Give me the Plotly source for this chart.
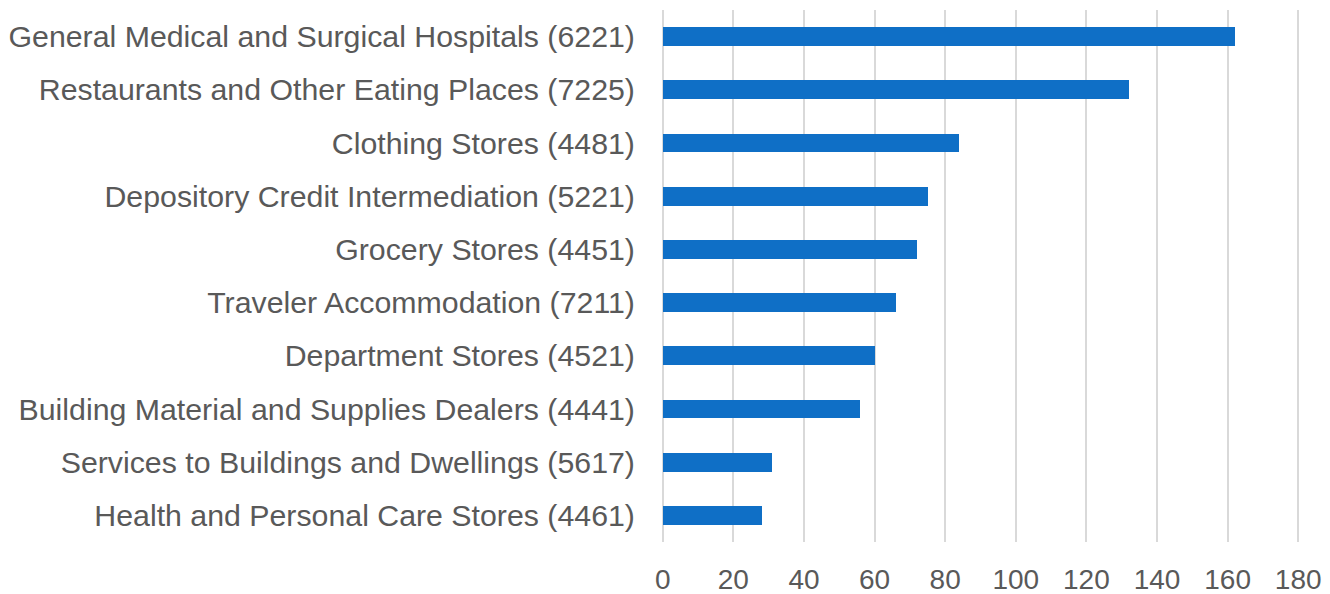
import plotly.graph_objects as go

categories = [
    "General Medical and Surgical Hospitals (6221)",
    "Restaurants and Other Eating Places (7225)",
    "Clothing Stores (4481)",
    "Depository Credit Intermediation (5221)",
    "Grocery Stores (4451)",
    "Traveler Accommodation (7211)",
    "Department Stores (4521)",
    "Building Material and Supplies Dealers (4441)",
    "Services to Buildings and Dwellings (5617)",
    "Health and Personal Care Stores (4461)",
]
values = [162, 132, 84, 75, 72, 66, 60, 56, 31, 28]
tick_vals = [0, 20, 40, 60, 80, 100, 120, 140, 160, 180]

fig = go.Figure(go.Bar(
    x=values, y=categories, orientation="h",
    marker=dict(color="#0F6FC6", line=dict(width=0)),
    width=0.35,
))

fig.update_layout(
    width=1330, height=594,
    margin=dict(l=661, r=30, t=10, b=52),
    plot_bgcolor="white", paper_bgcolor="white",
    font=dict(family="Liberation Sans, Arial, sans-serif", size=26, color="#595959"),
    showlegend=False,
    bargap=0,
)
fig.update_xaxes(
    range=[-0.5, 180.5], tickvals=tick_vals, ticktext=[str(v) for v in tick_vals],
    showgrid=True, gridcolor="#D9D9D9", gridwidth=2,
    zeroline=False, showline=False, automargin=False,
    ticks="outside", ticklen=12, tickcolor="rgba(0,0,0,0)",
    tickfont=dict(size=28, color="#595959"),
)
fig.update_yaxes(
    autorange="reversed", showgrid=False, zeroline=False, showline=False,
    automargin=False,
    ticks="outside", ticklen=19, tickcolor="rgba(0,0,0,0)",
    tickfont=dict(size=30.3, color="#595959"),
)

fig.write_html("out.html", config={"displayModeBar": False},
               post_script="document.body.style.margin='0';")
